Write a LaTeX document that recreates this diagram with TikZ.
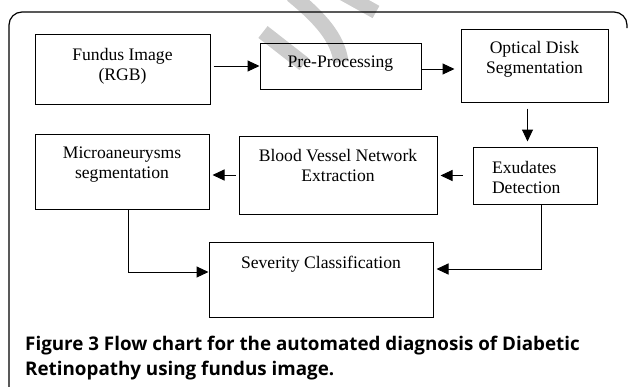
\documentclass[tikz,border=0pt]{standalone}
\usepackage{fontspec}
\setmainfont{Liberation Serif}
\newfontfamily\capfont{Open Sans}
\usetikzlibrary{arrows.meta}
\begin{document}
\begin{tikzpicture}[x=1pt,y=-1pt,
  box/.style={draw, line width=1pt, inner sep=0pt},
  txt/.style={align=center, font=\fontsize{17.6}{20}\selectfont},
  arr/.style={draw, line width=1pt, -{Triangle[length=12pt,width=11pt]}},
  wmark/.style={draw=black!20, line width=15pt}]
\useasboundingbox (0,0) rectangle (629,386);

% watermark
\path[wmark] (263,32) -- (304,64);
\path[wmark] (292,-5) .. controls (320,18) and (338,38) .. (341,62);
\path[wmark, line width=14pt] (340,-8) -- (376,12);

% frame
\path[draw, line width=1.2pt, rounded corners=13pt] (627,28) -- (627,12) -- (9,12) -- (9,400);

\node[box, minimum width=175pt, minimum height=70pt] (fundus) at (122.5,69) {};
\node[txt] at ([yshift=3.1pt]fundus.center) {Fundus Image\\(RGB)};
\node[box, minimum width=161pt, minimum height=46pt] (pre) at (340.5,66) {};
\node[txt] at ([yshift=2.2pt]pre.center) {Pre-Processing};
\node[box, minimum width=147pt, minimum height=73pt] (odseg) at (534.5,65.5) {};
\node[txt] at ([yshift=6.4pt]odseg.center) {Optical Disk\\Segmentation};

\node[box, minimum width=174pt, minimum height=75pt] (micro) at (122,171.5) {};
\node[txt] at ([yshift=7.3pt]micro.center) {Microaneurysms\\segmentation};
\node[box, minimum width=198pt, minimum height=78pt] (vessel) at (338,175) {};
\node[txt] at ([yshift=9.7pt]vessel.center) {Blood Vessel Network\\Extraction};
\node[box, minimum width=124pt, minimum height=57pt] (exud) at (535,175.5) {};
\node[txt, align=left, anchor=west] at ([xshift=16pt,yshift=-1.5pt]exud.west) {Exudates\\Detection};

\node[box, minimum width=224pt, minimum height=75pt] (sever) at (321,279.5) {};
\node[txt] at ([yshift=15.3pt]sever.center) {Severity Classification};

% connections
\path[arr, shorten <=3pt] (fundus.east |- pre.west) -- (pre.west);
\path[arr, shorten >=6pt] ([yshift=-3pt]pre.east) -- ([yshift=-3pt]pre.east -| odseg.west);
\path[arr, shorten <=6pt, shorten >=5pt] ([xshift=-7pt]odseg.south) -- ([xshift=-7pt]odseg.south |- exud.north);
\path[arr, shorten <=10pt, shorten >=3pt] (exud.west) -- (exud.west -| vessel.east);
\path[arr, shorten <=3pt, shorten >=3pt] (vessel.west) -- (vessel.west -| micro.east);
\path[arr] ([xshift=6pt]micro.south) |- ([yshift=7.5pt]sever.west);
\path[arr, shorten >=3pt] ([xshift=6pt]exud.south) |- ([yshift=10.5pt]sever.east);

% caption
\node[anchor=north west, align=left, inner sep=0pt, font=\capfont\bfseries\fontsize{18.8}{25.5}\selectfont] (caption) at (25,335.7)
  {Figure 3 Flow chart for the automated diagnosis of Diabetic\\Retinopathy using fundus image.};
\end{tikzpicture}
\end{document}
